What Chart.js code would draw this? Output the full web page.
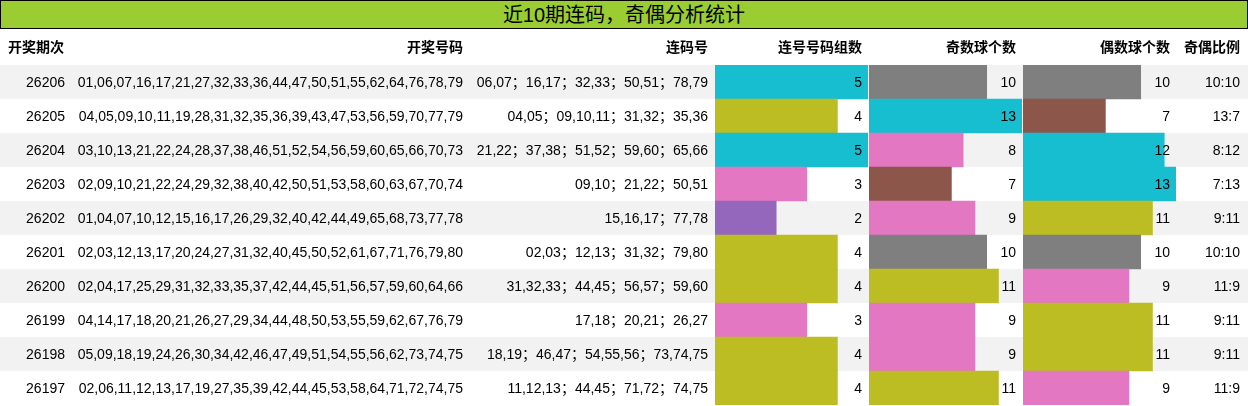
<!DOCTYPE html>
<html><head><meta charset="utf-8">
<script src="https://cdn.jsdelivr.net/npm/chart.js@4"></script>
<style>
body{margin:0;width:1248px;height:406px;overflow:hidden;background:#fff;font-family:"Liberation Sans","Noto Sans CJK SC",sans-serif;font-size:14px;color:#000;position:relative}
#title{position:absolute;left:0;top:0;width:1246px;height:27px;background:#9acd32;border:1px solid #000;text-align:center;font-size:20px;line-height:28px}
.c{position:absolute;white-space:nowrap;line-height:34px;height:34px}
.h{font-weight:bold}
.row{position:absolute;left:0;width:1248px;height:34px}
canvas{position:absolute}
.cv{position:absolute;top:65px;height:340px}
#txt{position:absolute;left:0;top:0;width:1248px;height:406px;z-index:5}
</style></head><body>
<div id="title">近10期连码，奇偶分析统计</div>
<div id="rows"></div>
<div class="cv" style="left:715px;width:153px"><canvas id="c1"></canvas></div>
<div class="cv" style="left:869px;width:153px"><canvas id="c2"></canvas></div>
<div class="cv" style="left:1023px;width:153px"><canvas id="c3"></canvas></div>
<div id="txt"></div>
<script>
const headers=["开奖期次","开奖号码","连码号","连号号码组数","奇数球个数","偶数球个数","奇偶比例"];
const periods=["26206","26205","26204","26203","26202","26201","26200","26199","26198","26197"];
const numbers=["01,06,07,16,17,21,27,32,33,36,44,47,50,51,55,62,64,76,78,79","04,05,09,10,11,19,28,31,32,35,36,39,43,47,53,56,59,70,77,79","03,10,13,21,22,24,28,37,38,46,51,52,54,56,59,60,65,66,70,73","02,09,10,21,22,24,29,32,38,40,42,50,51,53,58,60,63,67,70,74","01,04,07,10,12,15,16,17,26,29,32,40,42,44,49,65,68,73,77,78","02,03,12,13,17,20,24,27,31,32,40,45,50,52,61,67,71,76,79,80","02,04,17,25,29,31,32,33,35,37,42,44,45,51,56,57,59,60,64,66","04,14,17,18,20,21,26,27,29,34,44,48,50,53,55,59,62,67,76,79","05,09,18,19,24,26,30,34,42,46,47,49,51,54,55,56,62,73,74,75","02,06,11,12,13,17,19,27,35,39,42,44,45,53,58,64,71,72,74,75"];
const lianma=["06,07；16,17；32,33；50,51；78,79","04,05；09,10,11；31,32；35,36","21,22；37,38；51,52；59,60；65,66","09,10；21,22；50,51","15,16,17；77,78","02,03；12,13；31,32；79,80","31,32,33；44,45；56,57；59,60","17,18；20,21；26,27","18,19；46,47；54,55,56；73,74,75","11,12,13；44,45；71,72；74,75"];
const groups=[5,4,5,3,2,4,4,3,4,4];
const odd=[10,13,8,7,9,10,11,9,9,11];
const even=[10,7,12,13,11,10,9,11,11,9];
const ratio=["10:10","13:7","8:12","7:13","9:11","10:10","11:9","9:11","9:11","11:9"];
const groupColors={5:"#17becf",4:"#bcbd22",3:"#e377c2",2:"#9467bd"};
const numColors={13:"#17becf",12:"#17becf",11:"#bcbd22",10:"#7f7f7f",9:"#e377c2",8:"#e377c2",7:"#8c564b"};

const rows=document.getElementById('rows'),txt=document.getElementById('txt');
const hdrR=[64,463,708,862,1016,1170,1240];
function put(t,right,top,cls){const d=document.createElement('div');d.className='c '+(cls||'');d.textContent=t;d.style.top=top+'px';d.style.right=(1248-right)+'px';txt.appendChild(d);}
headers.forEach((h,i)=>put(h,hdrR[i],30,'h'));
for(let i=0;i<10;i++){
  const y=65+i*34;
  if(i%2==0){const r=document.createElement('div');r.className='row';r.style.top=y+'px';r.style.background='#f2f2f2';rows.appendChild(r);}
  put(periods[i],65,y);put(numbers[i],463,y);put(lianma[i],708,y);
  put(String(groups[i]),862,y);put(String(odd[i]),1016,y);put(String(even[i]),1170,y);put(ratio[i],1240,y);
}
function mk(id,data,max,cmap){
  new Chart(document.getElementById(id),{type:'bar',
    data:{labels:periods,datasets:[{data:data,backgroundColor:data.map(v=>cmap[v]),barPercentage:1,categoryPercentage:1,borderWidth:0}]},
    options:{indexAxis:'y',responsive:true,maintainAspectRatio:false,animation:false,
      layout:{padding:0},plugins:{legend:{display:false},tooltip:{enabled:false}},
      scales:{x:{display:false,min:0,max:max},y:{display:false}}}});
}
mk('c1',groups,5,groupColors);mk('c2',odd,13,numColors);mk('c3',even,13,numColors);
</script></body></html>
